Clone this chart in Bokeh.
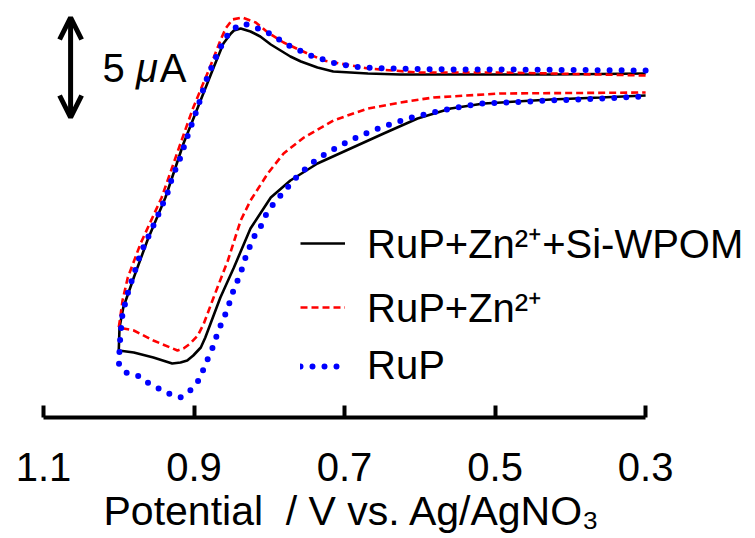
from bokeh.plotting import figure
from bokeh.models import Range1d, FixedTicker, Legend, LegendItem, Arrow, OpenHead, Label, Title
from bokeh.embed import file_html
from bokeh.resources import INLINE

# ---- data: potential (V vs Ag/AgNO3) and current (uA, relative) ----
black_E = [0.300, 0.426, 0.559, 0.626, 0.669, 0.715, 0.736, 0.758, 0.772, 0.785, 0.798, 0.812, 0.825,
           0.838, 0.847, 0.851, 0.861, 0.874, 0.895, 0.914, 0.938, 0.962, 0.980, 0.994, 0.999, 1.000,
           0.980, 0.954, 0.929, 0.918, 0.909, 0.901, 0.891, 0.885, 0.878, 0.865, 0.847, 0.825, 0.798,
           0.772, 0.736, 0.692, 0.648, 0.603, 0.559, 0.515, 0.426, 0.360, 0.300]
black_I = [0.60, 0.55, 0.55, 0.55, 0.60, 0.70, 0.90, 1.20, 1.45, 1.75, 2.05, 2.45, 2.70,
           2.85, 2.75, 2.60, 2.10, 0.90, -1.10, -2.90, -5.60, -7.75, -9.60, -11.10, -12.10, -13.25,
           -13.35, -13.60, -13.90, -13.85, -13.75, -13.50, -13.10, -12.60, -11.90, -10.60, -9.10, -7.15, -5.60,
           -4.75, -3.90, -3.15, -2.40, -1.65, -1.15, -0.90, -0.70, -0.60, -0.50]

red_E = [0.300, 0.426, 0.493, 0.603, 0.669, 0.728, 0.758, 0.781, 0.802, 0.818, 0.836, 0.849, 0.858,
         0.865, 0.879, 0.901, 0.918, 0.943, 0.971, 0.988, 0.995, 0.998, 1.000,
         0.980, 0.954, 0.922, 0.914, 0.905, 0.895, 0.887, 0.874, 0.855, 0.838, 0.825, 0.802, 0.781,
         0.754, 0.715, 0.669, 0.626, 0.582, 0.493, 0.300]
red_I = [0.50, 0.60, 0.65, 0.65, 0.85, 1.25, 1.75, 2.15, 2.65, 3.15, 3.40, 3.30, 2.85,
         2.25, 0.90, -1.10, -2.90, -5.60, -7.90, -9.60, -10.75, -11.60, -12.10,
         -12.25, -12.75, -13.25, -13.15, -12.90, -12.50, -11.90, -10.60, -8.75, -6.75, -5.75, -4.40, -3.40,
         -2.60, -1.75, -1.15, -0.85, -0.60, -0.40, -0.35]

blue_E = [0.300, 0.493, 0.559, 0.639, 0.679, 0.712, 0.745, 0.774, 0.802, 0.818, 0.834, 0.847, 0.858,
          0.867, 0.874, 0.885, 0.895, 0.907, 0.918, 0.929, 0.935, 0.949, 0.971, 0.987, 0.995, 0.998,
          1.000, 0.991, 0.975, 0.962, 0.947, 0.934, 0.918, 0.905, 0.894, 0.887, 0.881, 0.874, 0.869,
          0.862, 0.855, 0.851, 0.845, 0.838, 0.834, 0.828, 0.821, 0.812, 0.805, 0.796, 0.785, 0.762,
          0.736, 0.708, 0.679, 0.648, 0.616, 0.583, 0.550, 0.519, 0.426, 0.360, 0.300]
blue_I = [0.75, 0.80, 0.80, 0.85, 0.90, 1.10, 1.50, 2.00, 2.65, 2.90, 3.10, 2.85, 2.40,
          1.75, 1.15, 0.15, -1.10, -2.35, -3.60, -4.60, -5.35, -6.60, -8.40, -10.25, -11.40, -12.60,
          -13.90, -14.35, -14.50, -14.85, -15.15, -15.40, -15.60, -15.25, -14.75, -14.15, -13.60, -13.00, -12.40,
          -11.75, -11.15, -10.60, -10.00, -9.40, -8.85, -8.25, -7.60, -7.10, -6.50, -6.00, -5.50, -4.50,
          -3.65, -3.05, -2.50, -2.05, -1.65, -1.35, -1.10, -0.90, -0.75, -0.65, -0.55]

labels = ["RuP+Zn\u00b2\u207a+Si-WPOM", "RuP+Zn\u00b2\u207a", "RuP"]
tick_values = [1.1, 0.9, 0.7, 0.5, 0.3]
tick_labels = ["1.1", "0.9", "0.7", "0.5", "0.3"]
x_title = "Potential\u00a0 / V vs. Ag/AgNO\u2083"
axis_span = (0.3, 1.1)
view_E = (1.1, 0.154)
view_I = (-16.6, 4.25)
scale_bar_uA = 5.0
scale_bar_E = 1.064
scale_bar_bottom = -1.6

FONT = "Liberation Sans"

p = figure(width=755, height=538, x_range=Range1d(*view_E), y_range=Range1d(*view_I),
           output_backend="svg", toolbar_location=None, y_axis_location=None,
           min_border_left=43, min_border_right=0, min_border_top=0, min_border_bottom=121)
p.outline_line_color = None
p.xgrid.visible = False
p.ygrid.visible = False
p.background_fill_color = "white"
p.border_fill_color = "white"

ax = p.xaxis[0]
ax.bounds = axis_span
ax.ticker = FixedTicker(ticks=tick_values, minor_ticks=[])
ax.major_label_overrides = {v: t for v, t in zip(tick_values, tick_labels)}
ax.axis_line_width = 4
ax.axis_line_color = "black"
ax.major_tick_line_width = 4
ax.major_tick_line_color = "black"
ax.major_tick_in = 12
ax.major_tick_out = 0
ax.minor_tick_line_color = None
ax.major_label_standoff = 35
ax.major_label_text_font = FONT
ax.major_label_text_font_size = "40px"
ax.major_label_text_color = "black"

p.add_layout(Title(text=x_title, align="left", offset=60, text_font=FONT,
                   text_font_size="41px", text_font_style="normal", text_color="black",
                   standoff=5), "below")

r_black = p.line(black_E, black_I, line_color="black", line_width=2.6)
r_red = p.line(red_E, red_I, line_color="#FF0000", line_width=2.6, line_dash="7 4")
r_blue = p.line(blue_E, blue_I, line_color="#0000FF", line_width=6, line_dash="0 12",
                line_cap="round")

legend = Legend(items=[LegendItem(label=labels[0], renderers=[r_black]),
                       LegendItem(label=labels[1], renderers=[r_red]),
                       LegendItem(label=labels[2], renderers=[r_blue])],
                location=(257, 29), padding=0, margin=0, spacing=9,
                glyph_width=45, glyph_height=44, label_height=44, label_standoff=22,
                label_text_font=FONT, label_text_font_size="40px", label_text_color="black",
                border_line_color=None, background_fill_alpha=0)
p.add_layout(legend)

arrow = Arrow(start=OpenHead(size=22, line_width=5, line_color="black"),
              end=OpenHead(size=22, line_width=5, line_color="black"),
              x_start=scale_bar_E, y_start=scale_bar_bottom,
              x_end=scale_bar_E, y_end=scale_bar_bottom + scale_bar_uA,
              line_width=5, line_color="black")
p.add_layout(arrow)

mid = scale_bar_bottom + scale_bar_uA / 2
p.add_layout(Label(x=1.0216, y=mid, text="5", text_font=FONT, text_font_size="40px",
                   text_color="black", text_baseline="middle", text_align="left"))
p.add_layout(Label(x=0.977, y=mid, text="\u03bc", text_font=FONT, text_font_size="40px",
                   text_color="black", text_font_style="italic", text_baseline="middle",
                   text_align="left"))
p.add_layout(Label(x=0.9455, y=mid, text="A", text_font=FONT, text_font_size="40px",
                   text_color="black", text_baseline="middle", text_align="left"))

open("out.html", "w").write(file_html(p, INLINE))
